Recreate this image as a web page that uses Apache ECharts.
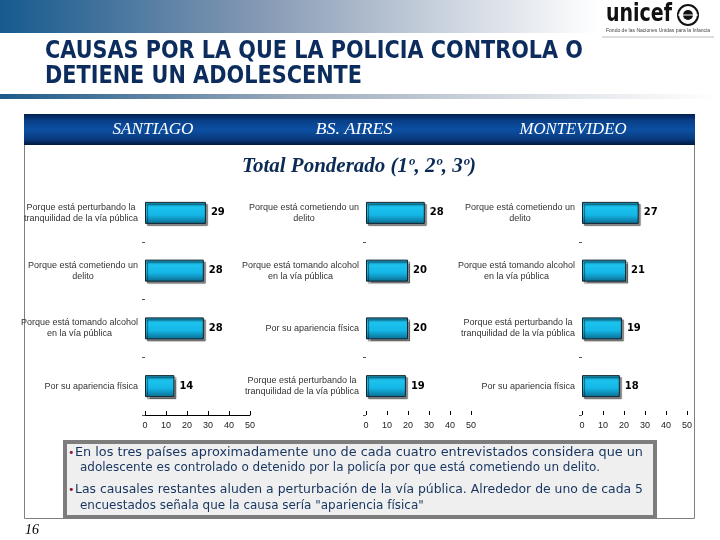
<!DOCTYPE html>
<html><head><meta charset="utf-8">
<script src="https://cdn.jsdelivr.net/npm/echarts@6/dist/echarts.min.js"></script>
<style>html,body{margin:0;padding:0;background:#fff}#c{width:720px;height:540px}</style>
</head><body><div id="c"></div>
<script>
// ---------- DATA ----------
const titleLines = ['CAUSAS POR LA QUE LA POLICIA CONTROLA O', 'DETIENE UN ADOLESCENTE'];
const cities = ['SANTIAGO', 'BS. AIRES', 'MONTEVIDEO'];
const subtitle = 'Total Ponderado (1º, 2º, 3º)';

const santiagoCategories = [
  'Porque está perturbando la\ntranquilidad de la vía pública',
  'Porque está cometiendo un\ndelito',
  'Porque está tomando alcohol\nen la vía pública',
  'Por su apariencia física'
];
const santiagoValues = [29, 28, 28, 14];

const bsAiresCategories = [
  'Porque está cometiendo un\ndelito',
  'Porque está tomando alcohol\nen la vía pública',
  'Por su apariencia física',
  'Porque está perturbando la\ntranquilidad de la vía pública'
];
const bsAiresValues = [28, 20, 20, 19];

const montevideoCategories = [
  'Porque está cometiendo un\ndelito',
  'Porque está tomando alcohol\nen la vía pública',
  'Porque está perturbando la\ntranquilidad de la vía pública',
  'Por su apariencia física'
];
const montevideoValues = [27, 21, 19, 18];

const xTickValues = [0, 10, 20, 30, 40, 50];

const noteLines = [
  'En los tres países aproximadamente uno de cada cuatro entrevistados considera que un',
  'adolescente es controlado o detenido por la policía por que está cometiendo un delito.',
  'Las causales restantes aluden a perturbación de la vía pública. Alrededor de uno de cada 5',
  'encuestados señala que la causa sería "apariencia física"'
];
const pageNumber = '16';

// ---------- HELPERS ----------
const mctx = document.createElement('canvas').getContext('2d');
function measure(text, font) { mctx.font = font; return mctx.measureText(text).width; }

const labelFont = '"Liberation Sans", Arial, sans-serif';
const titleFontFamily = '"DejaVu Sans", sans-serif';
const bodyFontFamily = '"DejaVu Sans", sans-serif';

const panels = [
  { cats: santiagoCategories, vals: santiagoValues, left: 145, line: true, tickKeep: i => i > 0 },
  { cats: bsAiresCategories, vals: bsAiresValues, left: 366, line: false, tickKeep: i => i === 1 || i === 3 },
  { cats: montevideoCategories, vals: montevideoValues, left: 582, line: false, tickKeep: i => i === 1 || i === 3 }
];
const gridTop = 184, gridHeight = 231, gridWidth = 105;

const barGradient = new echarts.graphic.LinearGradient(0, 0, 0, 1, [
  { offset: 0, color: '#0f7fa6' },
  { offset: 0.25, color: '#1cc3ee' },
  { offset: 0.6, color: '#14b6e6' },
  { offset: 1, color: '#0a6a8e' }
]);

const grids = [], xAxes = [], yAxes = [], series = [];
panels.forEach((p, i) => {
  grids.push({ left: p.left, top: gridTop, width: gridWidth, height: gridHeight, containLabel: false });
  xAxes.push({
    type: 'value', gridIndex: i, min: xTickValues[0], max: xTickValues[xTickValues.length - 1],
    interval: xTickValues[1] - xTickValues[0],
    axisLine: { show: p.line, lineStyle: { color: '#000', width: 1 } },
    axisTick: { show: true, inside: true, length: 4, lineStyle: { color: '#000' } },
    axisLabel: { fontSize: 9, color: '#222', fontFamily: labelFont, margin: 6 },
    splitLine: { show: false }
  });
  yAxes.push({
    type: 'category', gridIndex: i, data: p.cats, inverse: true,
    axisLine: { show: false },
    axisTick: { show: true, length: 3, interval: (idx) => p.tickKeep(idx), lineStyle: { color: '#555' } },
    axisLabel: {
      margin: 7, align: 'right', interval: 0,
      formatter: (v) => v.split('\n').map(l => '{c|' + l + '}').join('\n'),
      rich: { c: { align: 'center', fontSize: 9, lineHeight: 11, color: '#333', fontFamily: labelFont } }
    }
  });
  series.push({
    type: 'bar', xAxisIndex: i, yAxisIndex: i, data: p.vals, barWidth: 22,
    itemStyle: { color: barGradient, borderColor: '#10242e', borderWidth: 1,
      shadowColor: 'rgba(0,0,0,0.45)', shadowOffsetX: 2, shadowOffsetY: 2, shadowBlur: 1 },
    label: { show: true, position: 'right', distance: 5, fontSize: 10, fontWeight: 'bold',
      color: '#000', fontFamily: '"DejaVu Sans", sans-serif' },
    animation: false
  });
});

// ---------- GRAPHICS ----------
function scaledText(text, x, y, font, size, weight, style, targetW, color, extra) {
  const f = (style || 'normal') + ' ' + (weight || 'normal') + ' ' + size + 'px ' + font;
  const w = measure(text, f);
  const sx = targetW ? targetW / w : 1;
  return Object.assign({
    type: 'text', x: x, y: y, scaleX: sx, originX: 0, originY: 0,
    style: { text: text, fontFamily: font, fontSize: size, fontWeight: weight || 'normal',
      fontStyle: style || 'normal', fill: color, textAlign: 'left', textVerticalAlign: 'middle' }
  }, extra || {});
}

const g = [];
// top banner
g.push({ type: 'rect', shape: { x: 0, y: 0, width: 720, height: 33 }, z: 0,
  style: { fill: new echarts.graphic.LinearGradient(0, 0, 1, 0, [
    { offset: 0, color: '#165a8e' }, { offset: 0.35, color: '#8297b2' },
    { offset: 0.65, color: '#d3dae3' }, { offset: 0.83, color: '#ffffff' }, { offset: 1, color: '#ffffff' }]) } });
// thin rule under title
g.push({ type: 'rect', shape: { x: 0, y: 94, width: 720, height: 5 }, z: 0,
  style: { fill: new echarts.graphic.LinearGradient(0, 0, 1, 0, [
    { offset: 0, color: '#1c5a8a' }, { offset: 0.4, color: '#9aa9bb' },
    { offset: 0.8, color: '#e4e7eb' }, { offset: 1, color: '#ffffff' }]) } });
// logo
g.push(scaledText('unicef', 606, 15, '"DejaVu Sans", sans-serif', 24, 'bold', 'normal', 66, '#111'));
g.push({ type: 'circle', shape: { cx: 688, cy: 15, r: 10 }, style: { fill: '#fff', stroke: '#111', lineWidth: 2 } });
g.push({ type: 'circle', shape: { cx: 688, cy: 15, r: 5 }, style: { fill: '#111' } });
g.push({ type: 'line', shape: { x1: 678, y1: 15, x2: 698, y2: 15 }, style: { stroke: '#fff', lineWidth: 1 } });
g.push(scaledText('Fondo de las Naciones Unidas para la Infancia', 606, 31, '"Liberation Sans", sans-serif', 5, 'normal', 'normal', 104, '#444'));
g.push({ type: 'line', shape: { x1: 602, y1: 37, x2: 714, y2: 37 }, style: { stroke: '#bbb', lineWidth: 1 } });
// title
g.push(scaledText(titleLines[0], 45, 52, titleFontFamily, 24, 'bold', 'normal', 538, '#0b2c5c',
  { }));
g.push(scaledText(titleLines[1], 45, 77, titleFontFamily, 24, 'bold', 'normal', 317, '#0b2c5c'));
// outer box
g.push({ type: 'rect', shape: { x: 24.5, y: 114.5, width: 670, height: 404 }, z: 0,
  style: { fill: 'none', stroke: '#808080', lineWidth: 1 } });
// header bar
g.push({ type: 'rect', shape: { x: 24, y: 114, width: 671, height: 31 }, z: 0,
  style: { fill: new echarts.graphic.LinearGradient(0, 0, 0, 1, [
    { offset: 0, color: '#021f4e' }, { offset: 0.2, color: '#093e86' }, { offset: 0.5, color: '#0c4fa2' },
    { offset: 0.8, color: '#093c80' }, { offset: 1, color: '#021a40' }]) } });
const cityCenters = [153, 354, 573];
const cityWidths = [81, 77, 107];
cities.forEach((c, i) => {
  g.push(scaledText(c, cityCenters[i] - cityWidths[i] / 2, 130, '"Liberation Serif", serif', 16, 'normal', 'italic', cityWidths[i], '#ffffff'));
});
g.push(scaledText(subtitle, 242, 167, '"Liberation Serif", serif', 20, 'bold', 'italic', 234, '#0b2a55'));
// note box
g.push({ type: 'rect', shape: { x: 65, y: 442, width: 590, height: 75 }, z: 0,
  style: { fill: '#efefef', stroke: '#7d7d7d', lineWidth: 4 } });
const bodySize = 13;
g.push({ type: 'text', x: 68, y: 453, style: { text: '•', fontSize: 11, fill: '#8b1538', textVerticalAlign: 'middle', fontFamily: bodyFontFamily } });
g.push({ type: 'text', x: 68, y: 490, style: { text: '•', fontSize: 11, fill: '#8b1538', textVerticalAlign: 'middle', fontFamily: bodyFontFamily } });
g.push(scaledText(noteLines[0], 75, 453, bodyFontFamily, bodySize, 'normal', 'normal', 568, '#16345f'));
g.push(scaledText(noteLines[1], 80, 468, bodyFontFamily, bodySize, 'normal', 'normal', 520, '#16345f'));
g.push(scaledText(noteLines[2], 75, 490, bodyFontFamily, bodySize, 'normal', 'normal', 568, '#16345f'));
const s4 = 520 / measure(noteLines[1], 'normal normal ' + bodySize + 'px ' + bodyFontFamily);
g.push(scaledText(noteLines[3], 80, 506, bodyFontFamily, bodySize, 'normal', 'normal',
  measure(noteLines[3], 'normal normal ' + bodySize + 'px ' + bodyFontFamily) * s4, '#16345f'));
// page number
g.push({ type: 'text', x: 25, y: 530, style: { text: pageNumber, fontFamily: '"Liberation Serif", serif', fontStyle: 'italic', fontSize: 14, fill: '#000', textVerticalAlign: 'middle' } });

const chart = echarts.init(document.getElementById('c'), null, { renderer: 'canvas' });
chart.setOption({
  animation: false,
  backgroundColor: '#ffffff',
  grid: grids, xAxis: xAxes, yAxis: yAxes, series: series,
  graphic: { elements: g }
});
</script>
</body></html>
